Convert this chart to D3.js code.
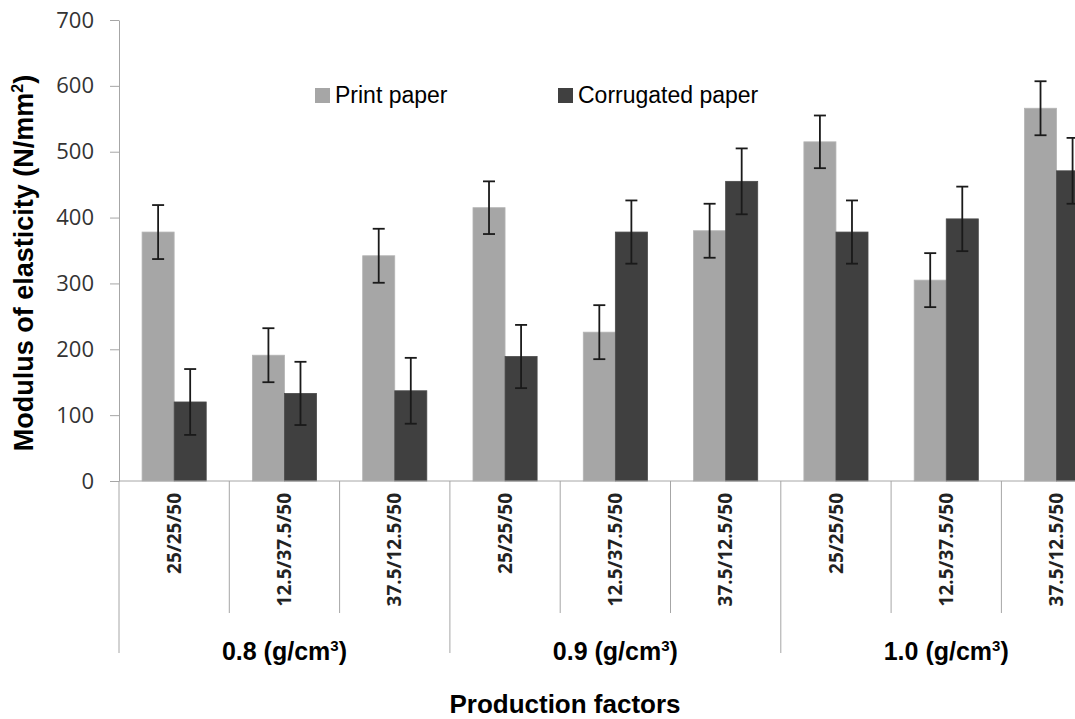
<!DOCTYPE html>
<html>
<head>
<meta charset="utf-8">
<script src="https://cdn.jsdelivr.net/npm/d3@7"></script>
<style>
  body { margin: 0; background: #fff; }
  svg { display: block; }
</style>
</head>
<body>
<svg width="1075" height="719"></svg>
<script>
var categories = ["25/25/50", "12.5/37.5/50", "37.5/12.5/50",
                  "25/25/50", "12.5/37.5/50", "37.5/12.5/50",
                  "25/25/50", "12.5/37.5/50", "37.5/12.5/50"];
var groups = ["0.8", "0.9", "1.0"];
var seriesNames = ["Print paper", "Corrugated paper"];
var printVals = [378, 191, 342, 415, 226, 380, 515, 305, 566];
var printErr = [41, 41, 41, 40, 41, 41, 40, 41, 41];
var corrVals = [120, 133, 137, 189, 378, 455, 378, 398, 471];
var corrErr = [50, 48, 50, 48, 48, 50, 48, 49, 50];
var yTicks = [0, 100, 200, 300, 400, 500, 600, 700];

var colors = ["#a6a6a6", "#404040"];
var axisColor = "#a6a6a6";
var sans = "'Liberation Sans', Arial, sans-serif";
var tickFont = "'Open Sans', sans-serif";

var svg = d3.select("svg");

var plotLeft = 119, plotTop = 20, plotBottom = 481;
var catW = 110.3;
var idx = categories.map(function(d, i) { return i; });

var x = d3.scaleBand().domain(idx).range([plotLeft, plotLeft + catW * categories.length]).paddingInner(0).paddingOuter(0);
var inner = d3.scaleBand().domain([0, 1]).range([0, x.bandwidth()]).paddingOuter(0.72).paddingInner(0);
var y = d3.scaleLinear().domain([0, 700]).range([plotBottom, plotTop]);

// y axis
var yAxis = svg.append("g")
  .attr("transform", "translate(" + plotLeft + ",0)")
  .call(d3.axisLeft(y).tickValues(yTicks).tickSize(9).tickPadding(16).tickSizeOuter(0));
yAxis.select(".domain").attr("stroke", axisColor);
yAxis.selectAll(".tick line").attr("stroke", axisColor);
yAxis.selectAll(".tick text")
  .attr("font-family", tickFont).attr("font-size", 22).attr("fill", "#333");

// bars
var series = [
  { vals: printVals, err: printErr },
  { vals: corrVals, err: corrErr }
];
series.forEach(function(s, si) {
  var g = svg.append("g");
  g.selectAll("rect").data(idx).enter().append("rect")
    .attr("x", function(i) { return x(i) + inner(si); })
    .attr("width", inner.bandwidth())
    .attr("y", function(i) { return y(s.vals[i]); })
    .attr("height", function(i) { return y(0) - y(s.vals[i]); })
    .attr("fill", colors[si])
    .attr("stroke", si == 0 ? "#b4b4b4" : "#4a4a4a")
    .attr("stroke-width", 0.8);

  var eb = g.selectAll(".err").data(idx).enter().append("g").attr("class", "err")
    .attr("stroke", "#1a1a1a").attr("stroke-width", 1.8);
  var cx = function(i) { return x(i) + inner(si) + inner.bandwidth() / 2; };
  eb.append("line")
    .attr("x1", cx).attr("x2", cx)
    .attr("y1", function(i) { return y(s.vals[i] + s.err[i]); })
    .attr("y2", function(i) { return y(s.vals[i] - s.err[i]); });
  [1, -1].forEach(function(sign) {
    eb.append("line")
      .attr("x1", function(i) { return cx(i) - 6; })
      .attr("x2", function(i) { return cx(i) + 6; })
      .attr("y1", function(i) { return y(s.vals[i] + sign * s.err[i]); })
      .attr("y2", function(i) { return y(s.vals[i] + sign * s.err[i]); });
  });
});

// x axis: baseline, separators, labels
svg.append("line")
  .attr("x1", plotLeft).attr("x2", x.range()[1])
  .attr("y1", plotBottom).attr("y2", plotBottom)
  .attr("stroke", axisColor);

var seps = d3.range(categories.length + 1);
svg.append("g").selectAll("line").data(seps).enter().append("line")
  .attr("x1", function(i) { return plotLeft + i * catW; })
  .attr("x2", function(i) { return plotLeft + i * catW; })
  .attr("y1", plotBottom)
  .attr("y2", function(i) { return i % 3 == 0 ? 653 : 613; })
  .attr("stroke", axisColor);

svg.append("g").selectAll("text").data(idx).enter().append("text")
  .attr("transform", function(i) {
    return "translate(" + (x(i) + x.bandwidth() / 2) + ",493) rotate(-90)";
  })
  .attr("text-anchor", "end")
  .attr("dy", "0.35em")
  .attr("font-family", tickFont).attr("font-weight", "bold")
  .attr("font-size", 19).attr("fill", "#222")
  .text(function(i) { return categories[i]; });

var gl = svg.append("g").selectAll("text").data(groups).enter().append("text")
  .attr("x", function(d, gi) { return plotLeft + (gi * 3 + 1.5) * catW; })
  .attr("y", 660)
  .attr("text-anchor", "middle")
  .attr("font-family", sans).attr("font-weight", "bold")
  .attr("font-size", 25).attr("fill", "#000");
gl.append("tspan").text(function(d) { return d + " (g/cm"; });
gl.append("tspan").attr("font-size", 15).attr("dy", -9).text("3");
gl.append("tspan").attr("dy", 9).text(")");

// axis titles
svg.append("text")
  .attr("x", 565).attr("y", 713)
  .attr("text-anchor", "middle")
  .attr("font-family", sans).attr("font-weight", "bold")
  .attr("font-size", 26).attr("fill", "#000")
  .text("Production factors");

var yt = svg.append("text")
  .attr("transform", "translate(33,263) rotate(-90)")
  .attr("text-anchor", "middle")
  .attr("font-family", sans).attr("font-weight", "bold")
  .attr("font-size", 27).attr("fill", "#000");
yt.append("tspan").text("Modulus of elasticity (N/mm");
yt.append("tspan").attr("font-size", 16).attr("dy", -10).text("2");
yt.append("tspan").attr("dy", 10).text(")");

// legend
var legX = [315, 558];
var leg = svg.append("g").selectAll("g").data(seriesNames).enter().append("g")
  .attr("transform", function(d, i) { return "translate(" + legX[i] + ",88)"; });
leg.append("rect").attr("width", 15).attr("height", 15)
  .attr("fill", function(d, i) { return colors[i]; });
leg.append("text").attr("x", 20).attr("y", 15)
  .attr("font-family", sans).attr("font-size", 23).attr("fill", "#000")
  .text(function(d) { return d; });
</script>
</body>
</html>
